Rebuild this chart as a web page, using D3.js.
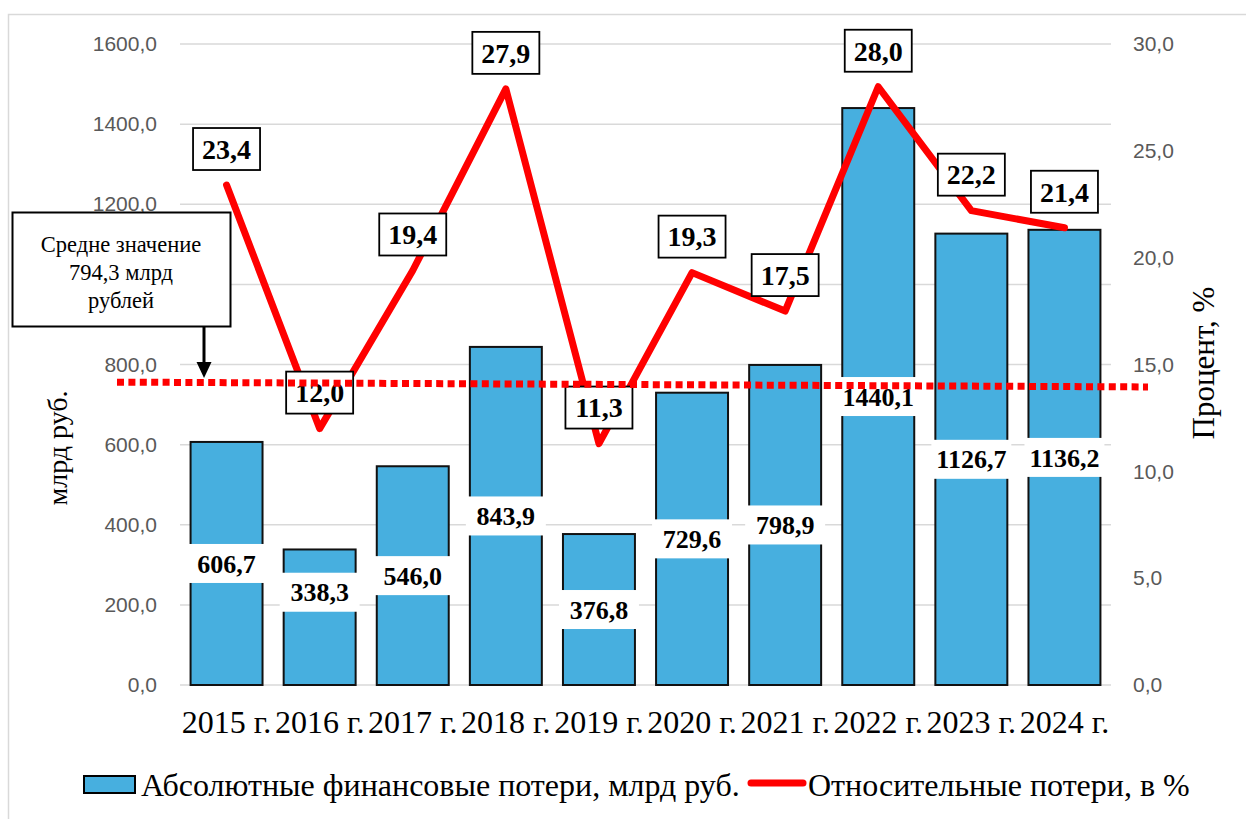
<!DOCTYPE html>
<html>
<head>
<meta charset="utf-8">
<script src="https://cdn.jsdelivr.net/npm/d3@7"></script>
<style>
  body { margin: 0; background: #fff; }
  svg { display: block; }
  .serif { font-family: 'Liberation Serif', 'Times New Roman', serif; }
  .tick text { font-family: 'Liberation Sans', Arial, sans-serif; font-size: 21px; fill: #595959; }
</style>
</head>
<body>
<div class="chartcontainer"></div>
<script>
const years = ['2015 г.', '2016 г.', '2017 г.', '2018 г.', '2019 г.', '2020 г.', '2021 г.', '2022 г.', '2023 г.', '2024 г.']
const absLoss = [606.7, 338.3, 546.0, 843.9, 376.8, 729.6, 798.9, 1440.1, 1126.7, 1136.2]
const relLoss = [23.4, 12.0, 19.4, 27.9, 11.3, 19.3, 17.5, 28.0, 22.2, 21.4]
const leftTicks = [0, 200, 400, 600, 800, 1000, 1200, 1400, 1600]
const rightTicks = [0, 5, 10, 15, 20, 25, 30]
const meanLevel = [756, 744] // dotted mean line, as drawn (start, end)
const legendNames = ['Абсолютные финансовые потери, млрд руб.', 'Относительные потери, в %']

const w = 1246
const h = 819
const plotLeft = 180
const plotRight = 1111
const plotTop = 44
const plotBottom = 685
const barColor = '#47AFDF'
const red = '#ff0000'
const fmt = (v) => v.toFixed(1).replace('.', ',')

const svg = d3.select('.chartcontainer').append('svg').attr('width', w).attr('height', h)

// chart frame
svg.append('rect')
  .attr('x', 8.5).attr('y', 14.5)
  .attr('width', w).attr('height', h)
  .attr('fill', 'none').attr('stroke', '#d9d9d9').attr('stroke-width', 1.5)

const xScale = d3.scaleBand().domain(years).range([plotLeft, plotRight]).paddingInner(0.227).paddingOuter(0.1135)
const yLeft = d3.scaleLinear().domain([0, 1600]).range([plotBottom, plotTop])
const yRight = d3.scaleLinear().domain([0, 30]).range([plotBottom, plotTop])

// grid
svg.append('g').selectAll('line').data(leftTicks).join('line')
  .attr('x1', plotLeft).attr('x2', plotRight)
  .attr('y1', (d) => yLeft(d)).attr('y2', (d) => yLeft(d))
  .attr('stroke', '#d9d9d9').attr('stroke-width', 1.5)

// axes
const yAxisL = d3.axisLeft(yLeft).tickValues(leftTicks).tickFormat(fmt).tickSize(0).tickPadding(23)
svg.append('g').attr('transform', 'translate(' + plotLeft + ',0)').call(yAxisL).call((g) => g.select('.domain').remove())
const yAxisR = d3.axisRight(yRight).tickValues(rightTicks).tickFormat(fmt).tickSize(0).tickPadding(22)
svg.append('g').attr('transform', 'translate(' + plotRight + ',0)').call(yAxisR).call((g) => g.select('.domain').remove())

// x labels
svg.append('g').selectAll('text').data(years).join('text')
  .attr('class', 'serif')
  .attr('x', (d) => xScale(d) + xScale.bandwidth() / 2)
  .attr('y', 733)
  .attr('text-anchor', 'middle')
  .attr('font-size', 32)
  .text((d) => d)

// axis titles
svg.append('text').attr('class', 'serif')
  .attr('transform', 'translate(67,448) rotate(-90)')
  .attr('text-anchor', 'middle').attr('font-size', 28)
  .text('млрд руб.')
svg.append('text').attr('class', 'serif')
  .attr('transform', 'translate(1214,363) rotate(-90)')
  .attr('text-anchor', 'middle').attr('font-size', 31)
  .text('Процент, %')

// bars
svg.append('g').selectAll('rect').data(absLoss).join('rect')
  .attr('x', (d, i) => xScale(years[i]))
  .attr('y', (d) => yLeft(d))
  .attr('width', xScale.bandwidth())
  .attr('height', (d) => plotBottom - yLeft(d))
  .attr('fill', barColor)
  .attr('stroke', '#111').attr('stroke-width', 2)

// bar value labels (white boxes)
const labelNudge = { '2016 г.': -25 }
const barLabels = svg.append('g').selectAll('g').data(absLoss).join('g')
  .attr('transform', (d, i) => {
    const cx = xScale(years[i]) + xScale.bandwidth() / 2
    const cy = (yLeft(d) + plotBottom) / 2 + (labelNudge[years[i]] || 0)
    return 'translate(' + cx + ',' + cy + ')'
  })
barLabels.append('rect')
  .attr('x', -xScale.bandwidth() / 2 - 4).attr('y', -19.5)
  .attr('width', xScale.bandwidth() + 8).attr('height', 39)
  .attr('fill', '#fff')
barLabels.append('text').attr('class', 'serif')
  .attr('text-anchor', 'middle').attr('dy', '0.35em')
  .attr('font-size', 26).attr('font-weight', 'bold')
  .text((d) => fmt(d))

// line
const line = d3.line()
  .x((d, i) => xScale(years[i]) + xScale.bandwidth() / 2)
  .y((d) => yRight(d))
svg.append('path').datum(relLoss)
  .attr('d', line)
  .attr('fill', 'none').attr('stroke', red).attr('stroke-width', 7)
  .attr('stroke-linecap', 'round').attr('stroke-linejoin', 'round')

// line value labels (boxed)
const lineLabels = svg.append('g').selectAll('g').data(relLoss).join('g')
  .attr('transform', (d, i) => 'translate(' + (xScale(years[i]) + xScale.bandwidth() / 2) + ',' + (yRight(d) - 36) + ')')
lineLabels.append('rect')
  .attr('x', -33.5).attr('y', -21)
  .attr('width', 67).attr('height', 42)
  .attr('fill', '#fff').attr('stroke', '#000').attr('stroke-width', 1.8)
lineLabels.append('text').attr('class', 'serif')
  .attr('text-anchor', 'middle').attr('dy', '0.35em')
  .attr('font-size', 28).attr('font-weight', 'bold')
  .text((d) => fmt(d))

// mean line (dotted)
svg.append('line')
  .attr('x1', 117).attr('x2', 1148)
  .attr('y1', yLeft(meanLevel[0])).attr('y2', yLeft(meanLevel[1]))
  .attr('stroke', red).attr('stroke-width', 7)
  .attr('stroke-dasharray', '7,4.4')

// callout
svg.append('rect')
  .attr('x', 12.5).attr('y', 212.5).attr('width', 218).attr('height', 114)
  .attr('fill', '#fff').attr('stroke', '#000').attr('stroke-width', 2)
svg.append('g').selectAll('text').data(['Средне значение', '794,3 млрд', 'рублей']).join('text')
  .attr('class', 'serif')
  .attr('x', 121).attr('y', (d, i) => 252 + i * 28)
  .attr('text-anchor', 'middle').attr('font-size', 22.5)
  .text((d) => d)
svg.append('line')
  .attr('x1', 204).attr('x2', 204).attr('y1', 327).attr('y2', 364)
  .attr('stroke', '#000').attr('stroke-width', 3)
svg.append('path')
  .attr('d', 'M196.5,362 L211.5,362 L204,378 Z')
  .attr('fill', '#000')

// legend
const legend = svg.append('g').attr('id', 'legend')
legend.append('rect')
  .attr('x', 84).attr('y', 776).attr('width', 51).attr('height', 17)
  .attr('fill', barColor).attr('stroke', '#000').attr('stroke-width', 2)
legend.append('text').attr('class', 'serif')
  .attr('x', 141).attr('y', 796).attr('font-size', 32)
  .text(legendNames[0])
legend.append('line')
  .attr('x1', 751).attr('x2', 803).attr('y1', 783).attr('y2', 783)
  .attr('stroke', red).attr('stroke-width', 7).attr('stroke-linecap', 'round')
legend.append('text').attr('class', 'serif')
  .attr('x', 808).attr('y', 796).attr('font-size', 32)
  .text(legendNames[1])
</script>
</body>
</html>
